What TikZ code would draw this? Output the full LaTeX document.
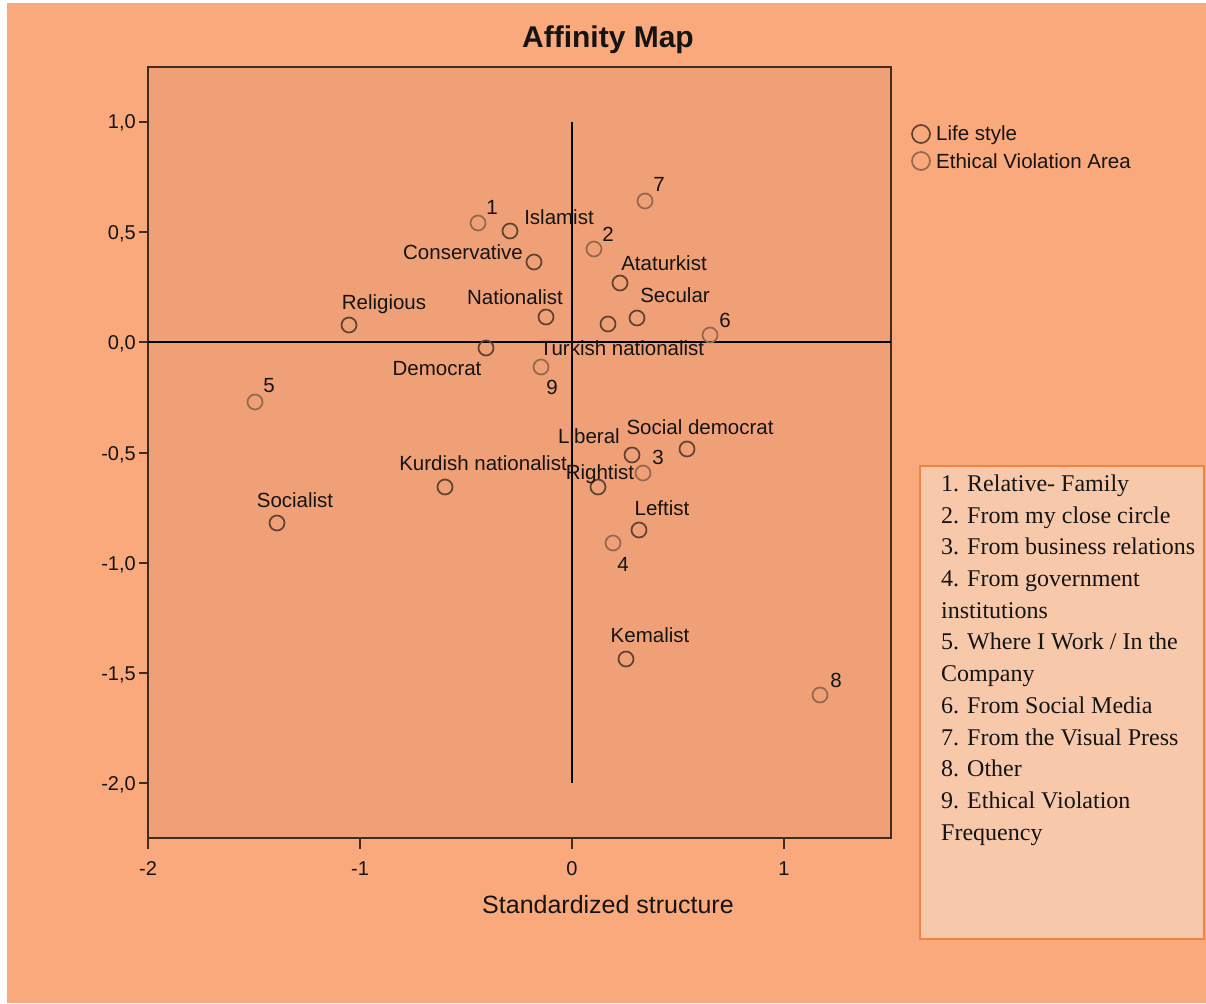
\documentclass[tikz,border=0pt]{standalone}
\usepackage{fontspec}
\setmainfont{Liberation Serif}
\newfontfamily\arialf{Liberation Sans}
\definecolor{bgout}{HTML}{F9A97C}
\definecolor{bgplot}{HTML}{F0A077}
\definecolor{lifec}{HTML}{5E4232}
\definecolor{ethc}{HTML}{94674E}
\definecolor{boxfill}{HTML}{F7C9AA}
\definecolor{boxdraw}{HTML}{EE8540}
\definecolor{framec}{HTML}{3F2C22}
\definecolor{txt}{HTML}{141414}
\begin{document}
\begin{tikzpicture}[x=1pt,y=-1pt,
  life/.style={circle,draw=lifec,line width=1.7pt,minimum size=15pt,inner sep=0pt},
  eth/.style={circle,draw=ethc,line width=1.7pt,minimum size=15pt,inner sep=0pt},
  lbl/.style={font=\arialf\fontsize{20.5}{24}\selectfont,anchor=base,inner sep=0pt,text=txt},
  ylbl/.style={font=\arialf\fontsize{20}{24}\selectfont,anchor=base east,inner sep=0pt,text=txt},
  framel/.style={draw=framec,line width=2pt},
  refl/.style={draw=black,line width=1.8pt}]
\useasboundingbox (0,0) rectangle (1206,1003);
\fill[white] (0,0) rectangle (1206,1003);
\fill[bgout] (7,3) rectangle (1206,1003);
\fill[bgplot] (148,67) rectangle (891,838);
% frame
\draw[framel] (148,67) rectangle (891,838);
% ticks
\foreach \yy/\tt/\nn in {122/{1,0}/a,232/{0,5}/b,342/{0,0}/c,453/{-0,5}/d,563/{-1,0}/e,673/{-1,5}/f,783/{-2,0}/g}{
  \draw[framel] (139,\yy) -- (148,\yy);
  \node[ylbl] (yt\nn) at (136,\yy+7) {\tt};
}
\foreach \xx/\tt/\nn in {148/-2/a,360/-1/b,572/0/c,784/1/d}{
  \draw[framel] (\xx,838) -- (\xx,849);
  \node[ylbl,anchor=base] (xt\nn) at (\xx,875) {\tt};
}
% reference lines
\draw[refl] (572,122) -- (572,783);
\draw[refl] (148,342) -- (891,342);
% life style points
\foreach \px/\py/\nn in {510/231/isl,534/262/con,546/317/nat,349/325/rel,486/348/dem,620/283/ata,637/318/sec,608/324/tur,632/455/lib,687/449/soc,598/487/rig,445/487/kur,639/530/lef,277/523/sol,626/659/kem}{
  \node[life] (p\nn) at (\px,\py) {};
}
% ethical violation points
\foreach \px/\py/\nn in {478/223/1,594/249/2,645/201/7,710/335/6,541/367/9,255/402/5,643/473/3,613/543/4,820/695/8}{
  \node[eth] (e\nn) at (\px,\py) {};
}
% labels
\node[lbl] (lisl) at (559,224) {Islamist};
\node[lbl] (lcon) at (463,259) {Conservative};
\node[lbl] (lnat) at (515,304) {Nationalist};
\node[lbl] (lrel) at (384,309) {Religious};
\node[lbl] (ldem) at (437,375) {Democrat};
\node[lbl] (lata) at (664,270) {Ataturkist};
\node[lbl] (lsec) at (675,302) {Secular};
\node[lbl] (ltur) at (622,355) {Turkish nationalist};
\node[lbl] (llib) at (589,443) {Liberal};
\node[lbl] (lsoc) at (700,434) {Social democrat};
\node[lbl] (lrig) at (600,479) {Rightist};
\node[lbl] (lkur) at (483,470) {Kurdish nationalist};
\node[lbl] (llef) at (662,515) {Leftist};
\node[lbl] (lsol) at (295,507) {Socialist};
\node[lbl] (lkem) at (650,642) {Kemalist};
\node[lbl] (l1) at (492,214) {1};
\node[lbl] (l2) at (608,241) {2};
\node[lbl] (l7) at (659,191) {7};
\node[lbl] (l6) at (725,327) {6};
\node[lbl] (l9) at (552,394) {9};
\node[lbl] (l5) at (269,392) {5};
\node[lbl] (l3) at (658,464) {3};
\node[lbl] (l4) at (623,571) {4};
\node[lbl] (l8) at (836,687) {8};
% title and axis title
\node[font=\arialf\bfseries\fontsize{30}{34}\selectfont,anchor=base,inner sep=0pt,text=txt] (title) at (608,48) {Affinity Map};
\node[font=\arialf\fontsize{25}{30}\selectfont,anchor=base,inner sep=0pt,text=txt] (xtitle) at (608,913) {Standardized structure};
% legend
\node[life,minimum size=18pt] (leg1) at (921,134) {};
\node[eth,minimum size=18pt] (leg2) at (921,161) {};
\node[lbl,anchor=base west] (legt1) at (936,141) {Life style};
\node[lbl,anchor=base west] (legt2) at (936,168) {Ethical Violation Area};
% note box
\draw[fill=boxfill,draw=boxdraw,line width=2.5pt] (920,466) rectangle (1204,939);
\node[anchor=north west,inner sep=0pt,align=left,text=txt,font=\fontsize{24}{31.7}\selectfont] (notes) at (941,474.6) {1. Relative- Family\\2. From my close circle\\3. From business relations\\4. From government\\institutions\\5. Where I Work / In the\\Company\\6. From Social Media\\7. From the Visual Press\\8. Other\\9. Ethical Violation\\Frequency};
\end{tikzpicture}
\end{document}
